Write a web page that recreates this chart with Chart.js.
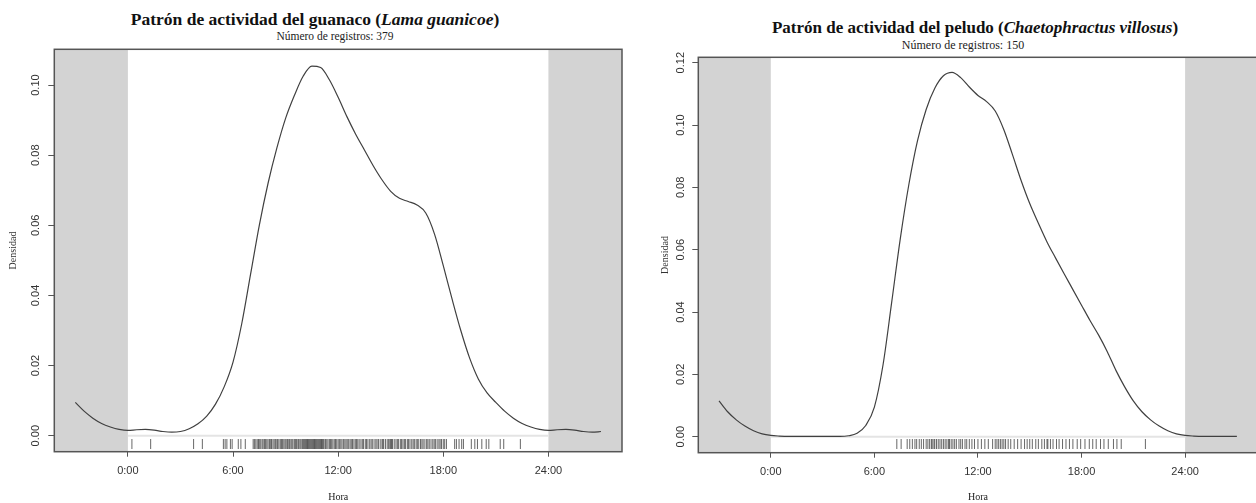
<!DOCTYPE html>
<html>
<head>
<meta charset="utf-8">
<script src="https://cdn.jsdelivr.net/npm/chart.js@4.4.1/dist/chart.umd.min.js"></script>
<style>
  body { margin: 0; background: #fff; width: 1256px; height: 503px; overflow: hidden; position: relative; }
  .caja { position: absolute; top: 0; }
  .titulo { position: absolute; width: 630px; text-align: center; font-family: 'Liberation Serif', serif; font-weight: bold; color: #111; white-space: nowrap; }
  .sub { position: absolute; width: 630px; text-align: center; font-family: 'Liberation Serif', serif; color: #222; white-space: nowrap; }
</style>
</head>
<body>

<div class="titulo" style="left:0px; top:9px; font-size:17.5px;">Patrón de actividad del guanaco (<i>Lama guanicoe</i>)</div>
<div class="sub" style="left:20px; top:30px; font-size:11.5px;">Número de registros: 379</div>
<div class="titulo" style="left:660px; top:18px; font-size:17px;">Patrón de actividad del peludo (<i>Chaetophractus villosus</i>)</div>
<div class="sub" style="left:648px; top:38px; font-size:12px;">Número de registros: 150</div>

<div class="caja" style="left:0px;"><canvas id="graficoGuanaco" width="628" height="503"></canvas></div>
<div class="caja" style="left:628px;"><canvas id="graficoPeludo" width="640" height="503"></canvas></div>

<script>
// patrones de actividad (densidad kernel)

// horas del eje x (-3 a 27, cada media hora)
var horas = [-3, -2.5, -2, -1.5, -1, -0.5, 0, 0.5, 1, 1.5, 2, 2.5, 3, 3.5, 4, 4.5, 5, 5.5, 6, 6.5,
    7, 7.5, 8, 8.5, 9, 9.5, 10, 10.5, 11, 11.5, 12, 12.5, 13, 13.5, 14, 14.5, 15, 15.5, 16, 16.5,
    17, 17.5, 18, 18.5, 19, 19.5, 20, 20.5, 21, 21.5, 22, 22.5, 23, 23.5, 24, 24.5, 25, 25.5, 26, 26.5, 27]

var densidadGuanaco = [0.0095, 0.0070, 0.0050, 0.0035, 0.0025, 0.0018, 0.0015, 0.0017, 0.0018, 0.0016,
    0.0012, 0.0010, 0.0012, 0.0020, 0.0034, 0.0056, 0.0090, 0.0140, 0.0210, 0.0320,
    0.0460, 0.0600, 0.0720, 0.0820, 0.0905, 0.0970, 0.1025, 0.1054, 0.1050, 0.1015,
    0.0965, 0.0910, 0.0860, 0.0815, 0.0770, 0.0730, 0.0697, 0.0677, 0.0668, 0.0658,
    0.0635, 0.0575, 0.0485, 0.0390, 0.0300, 0.0222, 0.0162, 0.0122, 0.0095, 0.0070,
    0.0050, 0.0035, 0.0025, 0.0018, 0.0015, 0.0017, 0.0018, 0.0016, 0.0012, 0.0010, 0.0012]

var densidadPeludo = [0.0115, 0.0080, 0.0054, 0.0034, 0.0019, 0.0009, 0.0004, 0.0002, 0.0001, 0.0001,
    0.0001, 0.0001, 0.0001, 0.0001, 0.0001, 0.0003, 0.0011, 0.0036, 0.0095, 0.0230,
    0.0430, 0.0635, 0.0810, 0.0950, 0.1050, 0.1118, 0.1158, 0.1169, 0.1152, 0.1122,
    0.1095, 0.1075, 0.1045, 0.0985, 0.0905, 0.0822, 0.0748, 0.0685, 0.0625, 0.0573,
    0.0522, 0.0472, 0.0422, 0.0372, 0.0325, 0.0272, 0.0212, 0.0160, 0.0115, 0.0080,
    0.0054, 0.0034, 0.0019, 0.0009, 0.0004, 0.0002, 0.0001, 0.0001, 0.0001, 0.0001, 0.0001]

// registros individuales (rug), hora del dia
var registrosGuanaco = [0.23, 1.3, 3.75, 4.25, 5.45, 5.55, 5.65, 5.85, 5.95, 6.3, 6.45, 6.7,
    7.15, 7.22, 7.3, 7.38, 7.45, 7.5, 7.58, 7.66, 7.72, 7.8, 7.86, 7.93, 8.0, 8.08, 8.15, 8.2, 8.28, 8.35,
    8.42, 8.5, 8.55, 8.62, 8.7, 8.77, 8.83, 8.9, 8.97, 9.03, 9.1, 9.15, 9.22, 9.3, 9.36, 9.42, 9.5, 9.56,
    9.62, 9.7, 9.75, 9.82, 9.88, 9.95, 10.0, 10.05, 10.1, 10.15, 10.2, 10.25, 10.3, 10.35, 10.4, 10.45,
    10.5, 10.55, 10.6, 10.65, 10.7, 10.75, 10.8, 10.85, 10.9, 10.95, 11.0, 11.05, 11.1, 11.15, 11.2,
    11.28, 11.35, 11.42, 11.5, 11.56, 11.63, 11.7, 11.78, 11.85, 11.92, 12.0, 12.07, 12.15, 12.22, 12.3,
    12.38, 12.45, 12.52, 12.6, 12.68, 12.75, 12.82, 12.9, 12.98, 13.05, 13.12, 13.2, 13.3, 13.38, 13.45,
    13.55, 13.62, 13.7, 13.8, 13.88, 13.95, 14.05, 14.15, 14.22, 14.3, 14.4, 14.5, 14.55, 14.6, 14.7,
    14.8, 14.88, 14.95, 15.0, 15.05, 15.1, 15.2, 15.3, 15.38, 15.45, 15.55, 15.62, 15.7, 15.78, 15.85,
    15.95, 16.02, 16.1, 16.2, 16.28, 16.35, 16.45, 16.52, 16.6, 16.7, 16.78, 16.85, 16.95, 17.05, 17.12,
    17.2, 17.3, 17.4, 17.48, 17.55, 17.65, 17.75, 17.82, 17.9, 18.0, 18.08, 18.18,
    18.65, 18.75, 18.9, 19.05, 19.15, 19.6, 19.8, 19.95, 20.2, 20.45, 20.6, 21.25, 21.45, 22.4]

var registrosPeludo = [7.3, 7.55, 7.9, 8.05, 8.2, 8.35, 8.45, 8.6, 8.72, 8.85, 9.0, 9.1, 9.2, 9.3, 9.35,
    9.45, 9.5, 9.6, 9.7, 9.8, 9.9, 10.0, 10.1, 10.2, 10.3, 10.35, 10.45, 10.55, 10.65, 10.75, 10.9, 11.0,
    11.1, 11.25, 11.35, 11.5, 11.65, 11.8, 12.0, 12.2, 12.4, 12.6, 12.85, 13.0, 13.1, 13.2, 13.3, 13.4,
    13.5, 13.6, 13.75, 13.9, 14.1, 14.3, 14.5, 14.7, 14.85, 15.0, 15.15, 15.35, 15.5, 15.7, 15.85, 16.0,
    16.05, 16.2, 16.35, 16.55, 16.7, 16.9, 17.1, 17.3, 17.5, 17.75, 17.95, 18.2, 18.45, 18.65, 18.85,
    19.1, 19.3, 19.55, 19.85, 20.05, 20.3, 21.7]

// marcas de los ejes
var marcasX = [0, 6, 12, 18, 24]
var etiquetasX = ['0:00', '6:00', '12:00', '18:00', '24:00']
var marcasYGuanaco = [0, 0.02, 0.04, 0.06, 0.08, 0.10]
var marcasYPeludo = [0, 0.02, 0.04, 0.06, 0.08, 0.10, 0.12]


// zonas grises (fuera de 0-24h) y marco del grafico
const fondoNoche = {
    id: 'fondoNoche',
    beforeDatasetsDraw(chart) {
        const { ctx, chartArea: a, scales: { x } } = chart
        const x0 = x.getPixelForValue(0)
        const x24 = x.getPixelForValue(24)
        ctx.save()
        ctx.fillStyle = '#d3d3d3'
        ctx.fillRect(a.left, a.top, x0 - a.left, a.bottom - a.top)
        ctx.fillRect(x24, a.top, a.right - x24, a.bottom - a.top)
        ctx.restore()
    },
    afterDatasetsDraw(chart) {
        const { ctx, chartArea: a } = chart
        ctx.save()
        ctx.strokeStyle = '#555'
        ctx.lineWidth = 1.5
        ctx.strokeRect(a.left, a.top, a.right - a.left, a.bottom - a.top)
        ctx.restore()
    }
}

function graficoDensidad(id, densidad, registros, marcasY, lim, caja) {
    const ctx = document.getElementById(id)
    const curva = horas.map((h, i) => ({ x: h, y: densidad[i] }))
    const rug = registros.map(h => ({ x: h, y: lim.rug }))

    return new Chart(ctx, {
        type: 'line',
        data: {
            datasets: [{
                data: curva,
                borderColor: '#404040',
                borderWidth: 1.2,
                pointRadius: 0,
                cubicInterpolationMode: 'monotone'
            }, {
                data: rug,
                showLine: false,
                pointStyle: 'line',
                rotation: 90,
                pointRadius: 5,
                borderWidth: 1,
                borderColor: 'rgba(0,0,0,0.6)'
            }, {
                data: [{ x: 0, y: 0 }, { x: 24, y: 0 }],
                borderColor: '#e4e4e4',
                borderWidth: 2,
                pointRadius: 0
            }]
        },
        options: {
            responsive: false,
            animation: false,
            events: [],
            layout: { padding: { left: 0, top: caja.top, right: caja.right, bottom: 0 } },
            plugins: { legend: { display: false }, tooltip: { enabled: false } },
            scales: {
                x: {
                    type: 'linear',
                    min: -4.2,
                    max: 28.2,
                    afterBuildTicks: s => { s.ticks = marcasX.map(v => ({ value: v })) },
                    afterFit: s => { s.height = caja.xAlto },
                    grid: { drawOnChartArea: false, drawTicks: true, tickLength: 5, color: '#555', tickColor: '#555' },
                    border: { display: false },
                    ticks: {
                        autoSkip: false,
                        maxRotation: 0,
                        padding: 8,
                        color: '#333',
                        font: { family: 'Liberation Sans', size: 11 },
                        callback: v => etiquetasX[marcasX.indexOf(v)]
                    },
                    title: {
                        display: true,
                        text: 'Hora',
                        color: '#222',
                        font: { family: 'Liberation Serif', size: 10 },
                        padding: { top: 0, bottom: 0 }
                    }
                },
                y: {
                    min: lim.min,
                    max: lim.max,
                    afterBuildTicks: s => { s.ticks = marcasY.map(v => ({ value: v })) },
                    afterFit: s => { s.width = caja.yAncho },
                    grid: { drawOnChartArea: false, drawTicks: true, tickLength: 6, color: '#555', tickColor: '#555' },
                    border: { display: false },
                    ticks: {
                        autoSkip: false,
                        minRotation: 90,
                        maxRotation: 90,
                        crossAlign: 'center',
                        padding: caja.yPad,
                        color: '#333',
                        font: { family: 'Liberation Sans', size: 11 },
                        callback: v => v.toFixed(2)
                    },
                    title: {
                        display: true,
                        text: 'Densidad',
                        color: '#333',
                        font: { family: 'Liberation Serif', size: 10 },
                        padding: { top: caja.tituloPad, bottom: 0 }
                    }
                }
            }
        },
        plugins: [fondoNoche]
    })
}

graficoDensidad('graficoGuanaco', densidadGuanaco, registrosGuanaco, marcasYGuanaco,
    { min: -0.00456, max: 0.1102, rug: -0.00237 },
    { top: 49.3, right: 5, xAlto: 51.3, yAncho: 54.3, yPad: 2, tituloPad: 7 })

graficoDensidad('graficoPeludo', densidadPeludo, registrosPeludo, marcasYPeludo,
    { min: -0.00513, max: 0.12173, rug: -0.00234 },
    { top: 57.3, right: 10.4, xAlto: 50.3, yAncho: 70.3, yPad: 1, tituloPad: 31 })
</script>
</body>
</html>
